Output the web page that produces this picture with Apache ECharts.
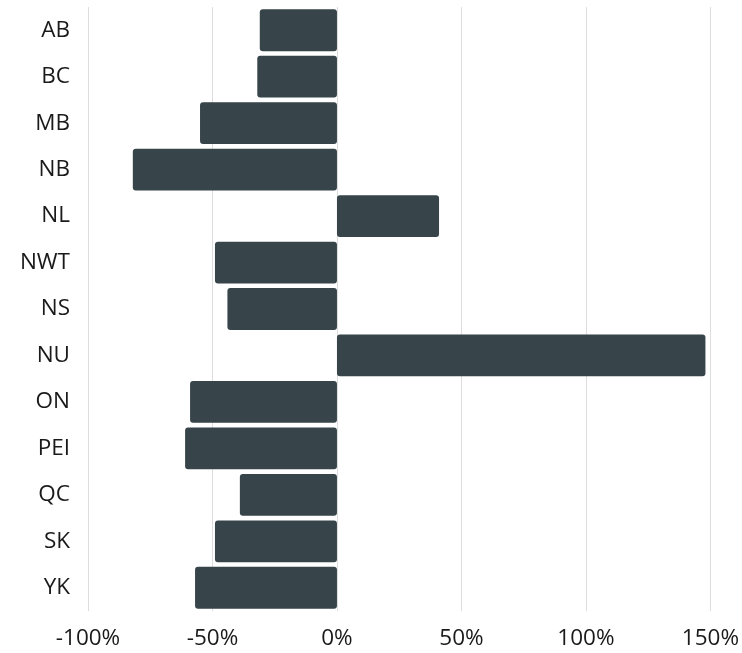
<!DOCTYPE html>
<html>
<head>
<meta charset="utf-8">
<script src="https://cdn.jsdelivr.net/npm/echarts@6/dist/echarts.min.js"></script>
<style>html,body{margin:0;padding:0;background:#fff}#c{width:742px;height:653px}</style>
</head>
<body>
<div id="c"></div>
<script>
const categories = ['AB','BC','MB','NB','NL','NWT','NS','NU','ON','PEI','QC','SK','YK'];
const values = [-31, -32, -55, -82, 41, -49, -44, 148, -59, -61, -39, -49, -57];
const xMin = -100, xMax = 150, xStep = 50;

const chart = echarts.init(document.getElementById('c'), null, {renderer: 'canvas'});
chart.setOption({
  animation: false,
  grid: {left: 88, right: 27, top: 7, bottom: 42, containLabel: false},
  xAxis: {
    type: 'value', min: xMin, max: xMax, interval: xStep,
    axisLine: {show: false}, axisTick: {show: false},
    axisLabel: {formatter: v => v + '%', fontFamily: 'Open Sans', fontSize: 22.5, color: '#1a1a1a', margin: 16},
    splitLine: {show: true, lineStyle: {color: '#dddddd', width: 1}}
  },
  yAxis: {
    type: 'category', data: categories, inverse: true,
    axisLine: {show: false}, axisTick: {show: false},
    axisLabel: {fontFamily: 'Open Sans', fontSize: 22.5, color: '#1a1a1a', margin: 18}
  },
  series: [{
    type: 'bar', data: values, barCategoryGap: '10%',
    itemStyle: {color: '#37444a', borderRadius: 3}
  }]
});
</script>
</body>
</html>
